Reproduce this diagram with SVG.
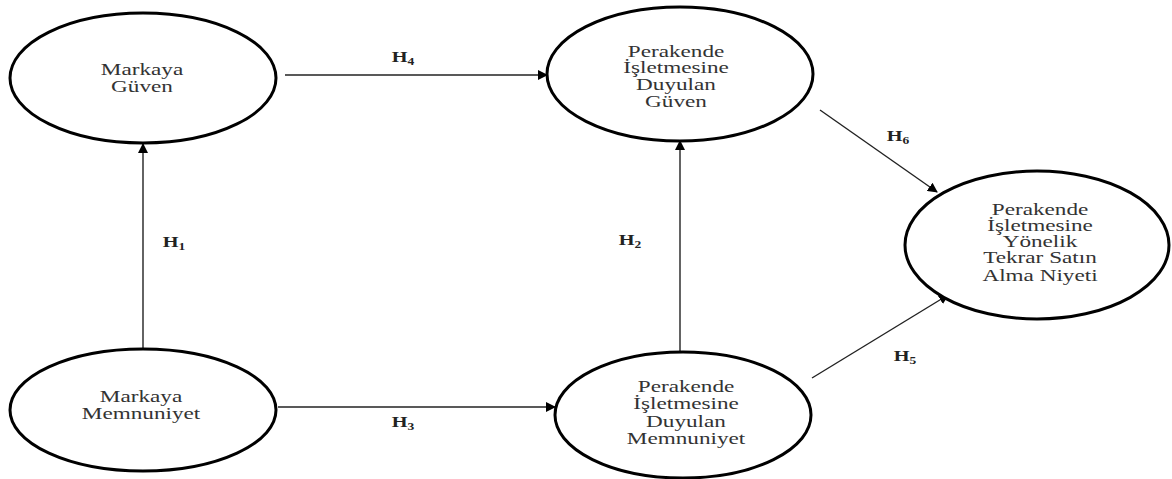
<svg xmlns="http://www.w3.org/2000/svg" width="1172" height="479" viewBox="0 0 1172 479">
<style>
.node ellipse{fill:#fff;stroke:#000;stroke-width:3}
.lbl{font-family:"Liberation Serif","Times New Roman",serif;font-size:16px;fill:#333;text-anchor:middle}
.h{font-family:"Liberation Serif","Times New Roman",serif;font-size:15px;font-weight:bold;fill:#222;text-anchor:middle}
.h tspan{font-size:10px}
.edge{stroke:#222;stroke-width:1.4;fill:none;marker-end:url(#ah)}
</style>
<defs>
<marker id="ah" viewBox="0 0 10 10" refX="9" refY="5" markerWidth="10" markerHeight="10" markerUnits="userSpaceOnUse" orient="auto">
<path d="M0,0 L10,5 L0,10 z" fill="#000"/>
</marker>
</defs>
<rect width="1172" height="479" fill="#fff"/>
<g id="connectors">
<line class="edge" x1="143" y1="349" x2="143" y2="144"/>
<line class="edge" x1="285" y1="75" x2="547" y2="75"/>
<line class="edge" x1="680" y1="352" x2="680" y2="141"/>
<line class="edge" x1="278" y1="407" x2="555" y2="407"/>
<line class="edge" x1="820" y1="110" x2="937" y2="192"/>
<line class="edge" x1="812" y1="378" x2="948" y2="295"/>
<g transform="translate(403,0) scale(1.35,1)"><text class="h" x="0" y="62">H<tspan dy="3">4</tspan></text></g>
<g transform="translate(174,0) scale(1.35,1)"><text class="h" x="0" y="247">H<tspan dy="3">1</tspan></text></g>
<g transform="translate(630,0) scale(1.35,1)"><text class="h" x="0" y="245">H<tspan dy="3">2</tspan></text></g>
<g transform="translate(403,0) scale(1.35,1)"><text class="h" x="0" y="427">H<tspan dy="3">3</tspan></text></g>
<g transform="translate(898,0) scale(1.35,1)"><text class="h" x="0" y="141">H<tspan dy="3">6</tspan></text></g>
<g transform="translate(905,0) scale(1.35,1)"><text class="h" x="0" y="361">H<tspan dy="3">5</tspan></text></g>
</g>
<g id="n1" class="node">
<ellipse cx="143" cy="78" rx="133" ry="65"/>
<g transform="translate(142,0) scale(1.45,1)"><text class="lbl" x="0" y="75">Markaya</text><text class="lbl" x="0" y="92">Güven</text></g>
</g>
<g id="n2" class="node">
<ellipse cx="680" cy="74" rx="133" ry="67"/>
<g transform="translate(676,0) scale(1.45,1)"><text class="lbl" x="0" y="57">Perakende</text><text class="lbl" x="0" y="73">İşletmesine</text><text class="lbl" x="0" y="90">Duyulan</text><text class="lbl" x="0" y="107">Güven</text></g>
</g>
<g id="n3" class="node">
<ellipse cx="1037" cy="245" rx="132" ry="74"/>
<g transform="translate(1040,0) scale(1.45,1)"><text class="lbl" x="0" y="215">Perakende</text><text class="lbl" x="0" y="231">İşletmesine</text><text class="lbl" x="0" y="247">Yönelik</text><text class="lbl" x="0" y="263">Tekrar Satın</text><text class="lbl" x="0" y="281">Alma Niyeti</text></g>
</g>
<g id="n4" class="node">
<ellipse cx="143" cy="410" rx="133" ry="61"/>
<g transform="translate(141,0) scale(1.45,1)"><text class="lbl" x="0" y="402">Markaya</text><text class="lbl" x="0" y="419">Memnuniyet</text></g>
</g>
<g id="n5" class="node">
<ellipse cx="683" cy="415" rx="128" ry="63"/>
<g transform="translate(686,0) scale(1.45,1)"><text class="lbl" x="0" y="392">Perakende</text><text class="lbl" x="0" y="409">İşletmesine</text><text class="lbl" x="0" y="427">Duyulan</text><text class="lbl" x="0" y="444">Memnuniyet</text></g>
</g>
</svg>
